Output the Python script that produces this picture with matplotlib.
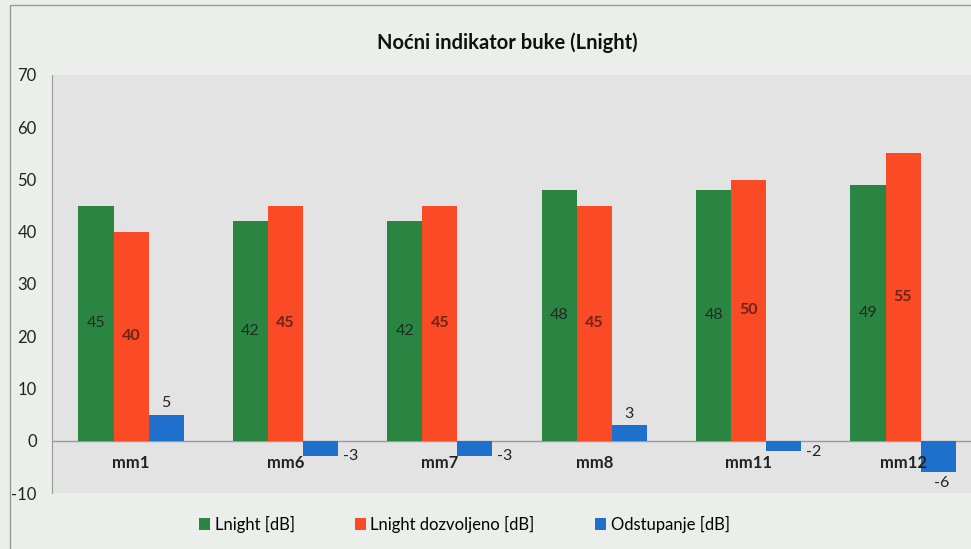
import matplotlib.pyplot as plt
import numpy as np
from matplotlib.patches import Rectangle

# data
categories = ['mm1', 'mm6', 'mm7', 'mm8', 'mm11', 'mm12']
lnight = [45, 42, 42, 48, 48, 49]
lnight_allowed = [40, 45, 45, 45, 50, 55]
deviation = [5, -3, -3, 3, -2, -6]
series_names = ['Lnight [dB]', 'Lnight dozvoljeno [dB]', 'Odstupanje [dB]']
y_ticks = [-10, 0, 10, 20, 30, 40, 50, 60, 70]

plt.rcParams['font.family'] = ['Lato', 'DejaVu Sans']

GREEN = '#2b8542'
RED = '#fb4a26'
BLUE = '#1f6fcd'

fig = plt.figure(figsize=(9.71, 5.49), dpi=100)
fig.patch.set_facecolor('#eceeec')

# thin frame of the chart area
fig.add_artist(Rectangle((10 / 971, -0.05), 1.2, 0.05 + (549 - 5) / 549,
                         transform=fig.transFigure, fill=False,
                         edgecolor='#9a9a9a', linewidth=1.0))

ax = fig.add_axes([52 / 971, 56 / 549, 1 - 52 / 971, 418 / 549])
ax.set_facecolor('#e3e3e3')

x = np.arange(len(categories))
w = 0.227

ax.bar(x - w, lnight, w, color=GREEN, label=series_names[0], zorder=3)
ax.bar(x, lnight_allowed, w, color=RED, label=series_names[1], zorder=3)
ax.bar(x + w, deviation, w, color=BLUE, label=series_names[2], zorder=3)

# labels inside green / red bars
for i in range(len(categories)):
    ax.text(x[i] - w, lnight[i] / 2, str(lnight[i]), ha='center', va='center',
            fontsize=11.5, color='#1f2a22', zorder=4)
    ax.text(x[i], lnight_allowed[i] / 2, str(lnight_allowed[i]), ha='center',
            va='center', fontsize=11.5, color='#6e2414', fontweight='bold', zorder=4)

# labels for deviation bars
for i, v in enumerate(deviation):
    if v >= 0:
        ax.text(x[i] + w, v + 0.8, str(v), ha='center', va='bottom',
                fontsize=11.5, color='#222222', zorder=4)
    elif i == len(deviation) - 1:
        ax.text(x[i] + w * 1.1, v - 0.8, str(v), ha='center', va='top',
                fontsize=11.5, color='#222222', zorder=4)
    else:
        ax.text(x[i] + w * 1.5 + 0.03, v * 0.8 - 0.6, str(v), ha='left', va='center',
                fontsize=11.5, color='#222222', zorder=4)

# category labels sit between 0 and -10
for i, c in enumerate(categories):
    ax.text(x[i], -4.3, c, ha='center', va='center', fontsize=12,
            fontweight='bold', color='#222222', zorder=5)

ax.axhline(0, color='#9a9a9a', linewidth=1.0, zorder=2)

ax.set_xlim(-0.512, 5.44)
ax.set_ylim(-10, 70)
ax.set_yticks(y_ticks)
ax.set_yticklabels([str(t) for t in y_ticks], fontsize=12, color='#222222')
ax.set_xticks([])
ax.tick_params(axis='y', length=0, pad=11)
for s in ['top', 'right', 'bottom']:
    ax.spines[s].set_visible(False)
ax.spines['left'].set_color('#9a9a9a')

fig.text(507 / 971, 1 - 43 / 549, 'Noćni indikator buke (Lnight)', ha='center',
         va='center', fontsize=14.5, fontweight='bold', color='#111111')

fig.legend(loc='center', bbox_to_anchor=(0.478, 1 - 524 / 549), ncol=3,
           frameon=False, fontsize=12, handlelength=0.7, handleheight=0.7,
           handletextpad=0.25, columnspacing=3.6)

plt.savefig('out.png', dpi=100, facecolor=fig.get_facecolor())
